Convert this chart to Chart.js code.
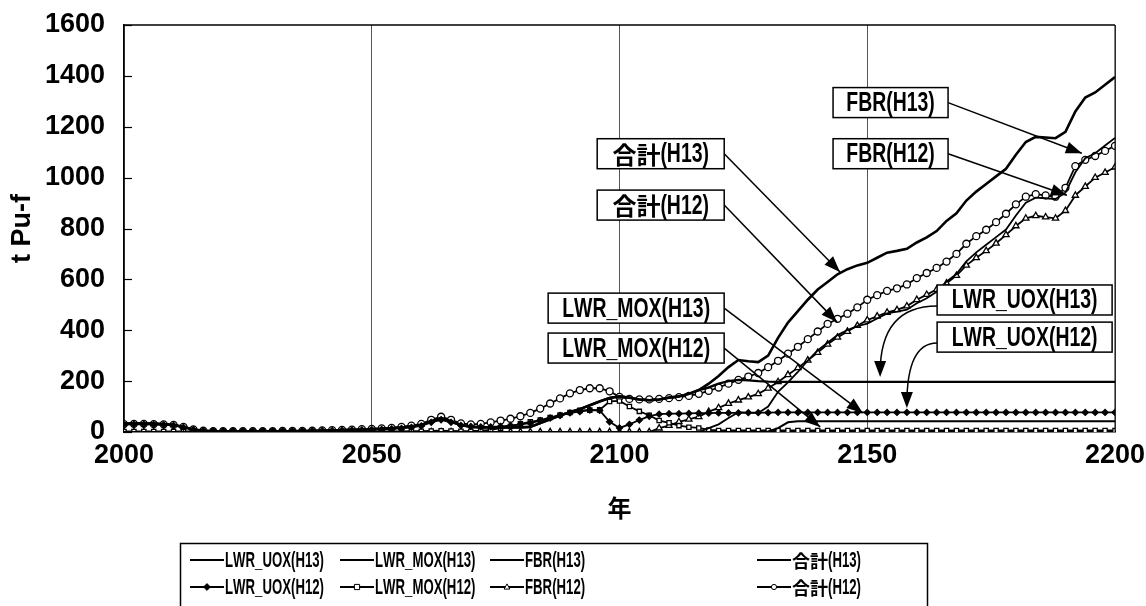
<!DOCTYPE html>
<html>
<head>
<meta charset="utf-8">
<script src="https://cdn.jsdelivr.net/npm/chart.js@4.4.0/dist/chart.umd.min.js"></script>
<style>
    html, body { margin: 0; padding: 0; background: #fff; }
    #wrap { width: 1146px; height: 606px; position: relative; }
</style>
</head>
<body>
<div id="wrap"><canvas id="myChart"></canvas></div>
<script>
// years (every 2nd year)
const years = [
    2000, 2002, 2004, 2006, 2008, 2010, 2012, 2014, 2016, 2018,
    2020, 2022, 2024, 2026, 2028, 2030, 2032, 2034, 2036, 2038,
    2040, 2042, 2044, 2046, 2048, 2050, 2052, 2054, 2056, 2058,
    2060, 2062, 2064, 2066, 2068, 2070, 2072, 2074, 2076, 2078,
    2080, 2082, 2084, 2086, 2088, 2090, 2092, 2094, 2096, 2098,
    2100, 2102, 2104, 2106, 2108, 2110, 2112, 2114, 2116, 2118,
    2120, 2122, 2124, 2126, 2128, 2130, 2132, 2134, 2136, 2138,
    2140, 2142, 2144, 2146, 2148, 2150, 2152, 2154, 2156, 2158,
    2160, 2162, 2164, 2166, 2168, 2170, 2172, 2174, 2176, 2178,
    2180, 2182, 2184, 2186, 2188, 2190, 2192, 2194, 2196, 2198,
    2200
];

const uoxH13 = [
    33, 34, 34, 33, 31, 28, 20, 10, 5, 3,
    2, 2, 2, 2, 2, 3, 3, 3, 4, 4,
    5, 6, 8, 9, 10, 12, 13, 15, 18, 22,
    28, 42, 55, 42, 28, 20, 18, 18, 18, 18,
    18, 20, 35, 50, 65, 78, 90, 105, 120, 134,
    140, 135, 128, 125, 128, 135, 140, 150, 165, 175,
    190, 200, 205, 203, 200, 198, 197, 197, 197, 197,
    197, 197, 197, 197, 197, 197, 197, 197, 197, 197,
    197, 197, 197, 197, 197, 197, 197, 197, 197, 197,
    197, 197, 197, 197, 197, 197, 197, 197, 197, 197,
    197
];
const moxH13 = [
    0, 0, 0, 0, 0, 0, 0, 0, 0, 0,
    0, 0, 0, 0, 0, 0, 0, 0, 0, 0,
    0, 0, 0, 0, 0, 0, 0, 0, 0, 0,
    0, 0, 0, 0, 0, 0, 0, 0, 0, 0,
    0, 0, 0, 0, 0, 0, 0, 0, 0, 0,
    0, 0, 0, 0, 0, 0, 0, 0, 0, 0,
    0, 0, 0, 0, 0, 2, 15, 38, 42, 42,
    42, 42, 42, 42, 42, 42, 42, 42, 42, 42,
    42, 42, 42, 42, 42, 42, 42, 42, 42, 42,
    42, 42, 42, 42, 42, 42, 42, 42, 42, 42,
    42
];
const fbrH13 = [
    0, 0, 0, 0, 0, 0, 0, 0, 0, 0,
    0, 0, 0, 0, 0, 0, 0, 0, 0, 0,
    0, 0, 0, 0, 0, 0, 0, 0, 0, 0,
    0, 0, 0, 0, 0, 0, 0, 0, 0, 0,
    0, 0, 0, 0, 0, 0, 0, 0, 0, 0,
    0, 0, 0, 0, 0, 0, 0, 0, 0, 15,
    30, 55, 78, 75, 75, 100, 158, 195, 236, 281,
    321, 351, 381, 401, 416, 426, 446, 466, 473, 481,
    506, 526, 551, 591, 621, 671, 706, 736, 766, 796,
    851, 901, 921, 919, 916, 941, 1021, 1076, 1096, 1126,
    1156
];
const sumH13 = [
    33, 34, 34, 33, 31, 28, 20, 10, 5, 3,
    2, 2, 2, 2, 2, 3, 3, 3, 4, 4,
    5, 6, 8, 9, 10, 12, 13, 15, 18, 22,
    28, 42, 55, 42, 28, 20, 18, 18, 18, 18,
    18, 20, 35, 50, 65, 78, 90, 105, 120, 134,
    140, 135, 128, 125, 128, 135, 140, 150, 165, 190,
    220, 255, 283, 278, 275, 300, 370, 430, 475, 520,
    560, 590, 620, 640, 655, 665, 685, 705, 712, 720,
    745, 765, 790, 830, 860, 910, 945, 975, 1005, 1035,
    1090, 1140, 1160, 1158, 1155, 1180, 1260, 1315, 1335, 1365,
    1395
];
const uoxH12 = [
    29, 30, 30, 29, 28, 26, 18, 9, 4, 2,
    2, 2, 2, 2, 2, 2, 3, 3, 3, 4,
    5, 5, 6, 7, 8, 9, 10, 12, 14, 18,
    24, 38, 48, 38, 26, 22, 20, 20, 22, 25,
    30, 35, 45, 55, 65, 75, 80, 86, 85, 40,
    16, 30, 47, 62, 70, 72, 72, 73, 74, 74,
    75, 75, 75, 76, 76, 76, 77, 77, 77, 77,
    77, 77, 77, 77, 77, 77, 77, 77, 77, 77,
    77, 77, 77, 77, 77, 77, 77, 77, 77, 77,
    77, 77, 77, 77, 77, 77, 77, 77, 77, 77,
    77
];
const moxH12 = [
    2, 2, 2, 2, 2, 2, 2, 2, 2, 2,
    1, 1, 1, 1, 1, 1, 1, 1, 1, 1,
    1, 1, 1, 1, 2, 2, 2, 2, 2, 3,
    3, 4, 5, 4, 3, 3, 5, 8, 15, 22,
    32, 40, 47, 57, 67, 77, 85, 86, 87, 120,
    122, 100, 81, 66, 45, 36, 25, 19, 16, 8,
    6, 6, 6, 6, 6, 6, 6, 6, 6, 6,
    6, 6, 6, 6, 6, 6, 6, 6, 6, 6,
    6, 6, 6, 6, 6, 6, 6, 6, 6, 6,
    6, 6, 6, 6, 6, 6, 6, 6, 6, 6,
    6
];
const fbrH12 = [
    0, 0, 0, 0, 0, 0, 0, 0, 0, 0,
    0, 0, 0, 0, 0, 0, 0, 0, 0, 0,
    0, 0, 0, 0, 0, 0, 0, 0, 0, 0,
    0, 0, 0, 0, 0, 0, 0, 0, 0, 0,
    0, 0, 0, 0, 0, 0, 0, 0, 0, 0,
    0, 0, 0, 0, 15, 25, 40, 50, 60, 80,
    95, 112, 125, 137, 150, 172, 197, 225, 252, 282,
    312, 345, 372, 395, 418, 440, 455, 470, 480, 495,
    520, 540, 560, 585, 615, 655, 685, 712, 742, 775,
    810, 840, 850, 845, 840, 870, 930, 965, 1000, 1020,
    1041
];
const sumH12 = [
    31, 32, 32, 31, 30, 28, 20, 10, 5, 3,
    3, 3, 3, 3, 3, 3, 4, 4, 4, 5,
    6, 7, 8, 9, 11, 12, 14, 16, 20, 25,
    32, 48, 60, 48, 34, 30, 32, 38, 45, 52,
    62, 75, 92, 112, 132, 152, 165, 172, 172, 160,
    138, 130, 128, 128, 130, 133, 137, 142, 150, 162,
    175, 190, 205, 218, 232, 255, 280, 308, 335, 365,
    395, 425, 445, 465, 490, 520, 538, 555, 565, 580,
    605, 625, 645, 670, 700, 740, 770, 795, 825, 858,
    895, 925, 935, 930, 925, 960, 1045, 1070, 1085, 1105,
    1125
];

const xTicks = [2000, 2050, 2100, 2150, 2200];
const yTicks = [0, 200, 400, 600, 800, 1000, 1200, 1400, 1600];

// callout boxes with arrows, placed in data units
const callouts = [
    { text: '合計(H13)', x: 2095.5, y: 1094, w: 127, tip: [2144.5, 629] },
    { text: '合計(H12)', x: 2095.5, y: 892, w: 127, tip: [2143.9, 432] },
    { text: 'LWR_MOX(H13)', x: 2085.6, y: 487, w: 176, tip: [2149.1, 75] },
    { text: 'LWR_MOX(H12)', x: 2085.6, y: 330, w: 176, tip: [2140.5, 20] },
    { text: 'FBR(H13)', x: 2143.1, y: 1295, w: 115, tip: [2193.3, 1096] },
    { text: 'FBR(H12)', x: 2143.1, y: 1094, w: 115, tip: [2190.3, 931] },
    { text: 'LWR_UOX(H13)', x: 2164.1, y: 519, w: 175, tip: [2152.6, 216], curved: true },
    { text: 'LWR_UOX(H12)', x: 2164.1, y: 373, w: 175, tip: [2158, 94], curved: true }
];

const LATIN = '"Liberation Sans", Arial, sans-serif';
const CJK = '"Noto Sans CJK JP", sans-serif';

function pts(vals) {
    return years.map((yr, i) => ({ x: yr, y: vals[i] }));
}

// draws text char by char: latin squeezed horizontally, kanji kept normal
function mixedText(ctx, text, x, y, latinSize, cjkSize, squeeze, draw) {
    let cx = x;
    for (const ch of text) {
        const isCjk = /[\u3000-\u9fff]/.test(ch);
        ctx.font = isCjk ? 'bold ' + cjkSize + 'px ' + CJK : 'bold ' + latinSize + 'px ' + LATIN;
        const sx = isCjk ? 1 : squeeze;
        const w = ctx.measureText(ch).width * sx;
        if (draw) {
            ctx.save();
            ctx.translate(cx, y);
            ctx.scale(sx, 1);
            ctx.fillText(ch, 0, 0);
            ctx.restore();
        }
        cx += w;
    }
    return cx - x;
}

function drawMarker(ctx, style, x, y, r, fill) {
    ctx.beginPath();
    if (style === 'circle') {
        ctx.arc(x, y, r, 0, Math.PI * 2);
    } else if (style === 'rect') {
        ctx.rect(x - r, y - r, 2 * r, 2 * r);
    } else if (style === 'triangle') {
        ctx.moveTo(x, y - r * 1.2);
        ctx.lineTo(x + r * 1.1, y + r * 0.8);
        ctx.lineTo(x - r * 1.1, y + r * 0.8);
        ctx.closePath();
    } else {
        ctx.moveTo(x, y - r * 1.3);
        ctx.lineTo(x + r * 1.3, y);
        ctx.lineTo(x, y + r * 1.3);
        ctx.lineTo(x - r * 1.3, y);
        ctx.closePath();
    }
    ctx.fillStyle = fill;
    ctx.fill();
    ctx.stroke();
}

function arrowHead(ctx, x, y, ang) {
    const len = 16, half = 6;
    ctx.beginPath();
    ctx.moveTo(x, y);
    ctx.lineTo(x - len * Math.cos(ang) + half * Math.sin(ang), y - len * Math.sin(ang) - half * Math.cos(ang));
    ctx.lineTo(x - len * Math.cos(ang) - half * Math.sin(ang), y - len * Math.sin(ang) + half * Math.cos(ang));
    ctx.closePath();
    ctx.fill();
}

const framePlugin = {
    id: 'frame',
    afterDatasetsDraw: function (chart) {
        const ctx = chart.ctx, a = chart.chartArea;
        const xs = chart.scales.x, ys = chart.scales.y;
        ctx.save();
        ctx.strokeStyle = '#000';
        // top and right border
        ctx.lineWidth = 1.5;
        ctx.beginPath();
        ctx.moveTo(a.left, a.top);
        ctx.lineTo(a.right, a.top);
        ctx.stroke();
        ctx.lineWidth = 1;
        ctx.beginPath();
        ctx.moveTo(a.right, a.top);
        ctx.lineTo(a.right, a.bottom);
        ctx.stroke();
        // inward tick marks on the y axis
        ctx.lineWidth = 1.2;
        yTicks.forEach(function (v) {
            const py = Math.round(ys.getPixelForValue(v)) + 0.5;
            ctx.beginPath();
            ctx.moveTo(a.left, py);
            ctx.lineTo(a.left + 8, py);
            ctx.stroke();
        });

        // callouts
        callouts.forEach(function (c) {
            const left = xs.getPixelForValue(c.x), mid = ys.getPixelForValue(c.y);
            const tx = xs.getPixelForValue(c.tip[0]), ty = ys.getPixelForValue(c.tip[1]);
            const h = 30;
            ctx.strokeStyle = '#000';
            ctx.fillStyle = '#000';
            ctx.lineWidth = 1.5;
            let ang;
            ctx.beginPath();
            if (c.curved) {
                const sx = left, sy = mid + 6;
                ctx.moveTo(sx, sy);
                ctx.quadraticCurveTo(tx, sy, tx, ty - 4);
                ang = Math.PI / 2;
            } else {
                const sx = left + c.w, sy = mid;
                ctx.moveTo(sx, sy);
                ctx.lineTo(tx, ty);
                ang = Math.atan2(ty - sy, tx - sx);
            }
            ctx.stroke();
            arrowHead(ctx, tx, ty, ang);

            ctx.fillStyle = '#fff';
            ctx.fillRect(left, mid - h / 2, c.w, h);
            ctx.lineWidth = 1.5;
            ctx.strokeRect(left, mid - h / 2, c.w, h);
            ctx.fillStyle = '#000';
            ctx.textBaseline = 'middle';
            ctx.textAlign = 'left';
            const tw = mixedText(ctx, c.text, 0, 0, 27, 24, 0.72, false);
            mixedText(ctx, c.text, left + (c.w - tw) / 2, mid + 1, 27, 24, 0.72, true);
        });
        ctx.restore();
    },
    afterDraw: function (chart) {
        // legend box, 4 columns x 2 rows
        const ctx = chart.ctx;
        const cols = [190, 340, 490, 757];
        const rows = [560, 587];
        ctx.save();
        ctx.strokeStyle = '#000';
        ctx.lineWidth = 1.5;
        ctx.strokeRect(180.5, 543.5, 747, 80);
        chart.data.datasets.forEach(function (ds, i) {
            const x = cols[i % 4], y = rows[Math.floor(i / 4)];
            ctx.strokeStyle = '#000';
            ctx.lineWidth = Math.min(ds.borderWidth, 2);
            ctx.beginPath();
            ctx.moveTo(x, y);
            ctx.lineTo(x + 34, y);
            ctx.stroke();
            if (ds.pointRadius > 0) {
                ctx.lineWidth = 1;
                drawMarker(ctx, ds.pointStyle, x + 17, y, 2.6, ds.pointBackgroundColor);
            }
            ctx.fillStyle = '#000';
            ctx.textBaseline = 'middle';
            ctx.textAlign = 'left';
            mixedText(ctx, ds.label, x + 35, y + 1, 22, 18, 0.6, true);
        });
        ctx.restore();
    }
};

function lineSet(label, vals, width) {
    return {
        label: label,
        data: pts(vals),
        borderColor: '#000',
        borderWidth: width,
        pointRadius: 0,
        tension: 0
    };
}

function markSet(label, vals, style, radius, fill) {
    return {
        label: label,
        data: pts(vals),
        borderColor: '#000',
        borderWidth: 1.8,
        pointStyle: style,
        pointRadius: radius,
        pointBackgroundColor: fill,
        pointBorderColor: '#000',
        pointBorderWidth: 1.3,
        tension: 0
    };
}

const ctx = document.getElementById('myChart').getContext('2d');
const myChart = new Chart(ctx, {
    type: 'line',
    data: {
        datasets: [
            lineSet('LWR_UOX(H13)', uoxH13, 2.4),
            lineSet('LWR_MOX(H13)', moxH13, 2),
            lineSet('FBR(H13)', fbrH13, 1.8),
            lineSet('合計(H13)', sumH13, 2.6),
            markSet('LWR_UOX(H12)', uoxH12, 'rectRot', 3, '#000'),
            markSet('LWR_MOX(H12)', moxH12, 'rect', 3, '#fff'),
            markSet('FBR(H12)', fbrH12, 'triangle', 3.6, '#fff'),
            markSet('合計(H12)', sumH12, 'circle', 3.5, '#fff')
        ]
    },
    options: {
        responsive: true,
        maintainAspectRatio: false,
        animation: false,
        devicePixelRatio: 1,
        layout: { padding: { left: 0, top: 25, right: 31, bottom: 84 } },
        plugins: {
            legend: { display: false },
            tooltip: { enabled: false }
        },
        scales: {
            x: {
                type: 'linear',
                min: 2000,
                max: 2200,
                afterBuildTicks: function (s) { s.ticks = xTicks.map(v => ({ value: v })); },
                afterFit: function (s) {
                    s.height = 90;
                    s.paddingLeft = 0;
                    s.paddingRight = 0;
                },
                grid: { color: '#555', lineWidth: 1, drawTicks: false },
                border: { display: true, color: '#000', width: 1.5 },
                ticks: {
                    padding: 7,
                    color: '#000',
                    font: { family: LATIN, size: 27, weight: 'bold' },
                    callback: v => String(v)
                },
                title: {
                    display: true,
                    text: '年',
                    color: '#000',
                    padding: { top: 0, bottom: 0 },
                    font: { family: CJK, size: 24, weight: 'bold' }
                }
            },
            y: {
                min: 0,
                max: 1600,
                afterBuildTicks: function (s) { s.ticks = yTicks.map(v => ({ value: v })); },
                afterFit: function (s) {
                    s.width = 124;
                    s.paddingTop = 0;
                    s.paddingBottom = 0;
                },
                grid: { display: false, drawTicks: false },
                border: { display: true, color: '#000', width: 1.5 },
                ticks: {
                    padding: 19,
                    color: '#000',
                    font: { family: LATIN, size: 27, weight: 'bold' },
                    callback: v => String(v)
                },
                title: {
                    display: true,
                    text: 't Pu-f',
                    color: '#000',
                    padding: { top: 6, bottom: 0 },
                    font: { family: LATIN, size: 27, weight: 'bold' }
                }
            }
        }
    },
    plugins: [framePlugin]
});
</script>
</body>
</html>
